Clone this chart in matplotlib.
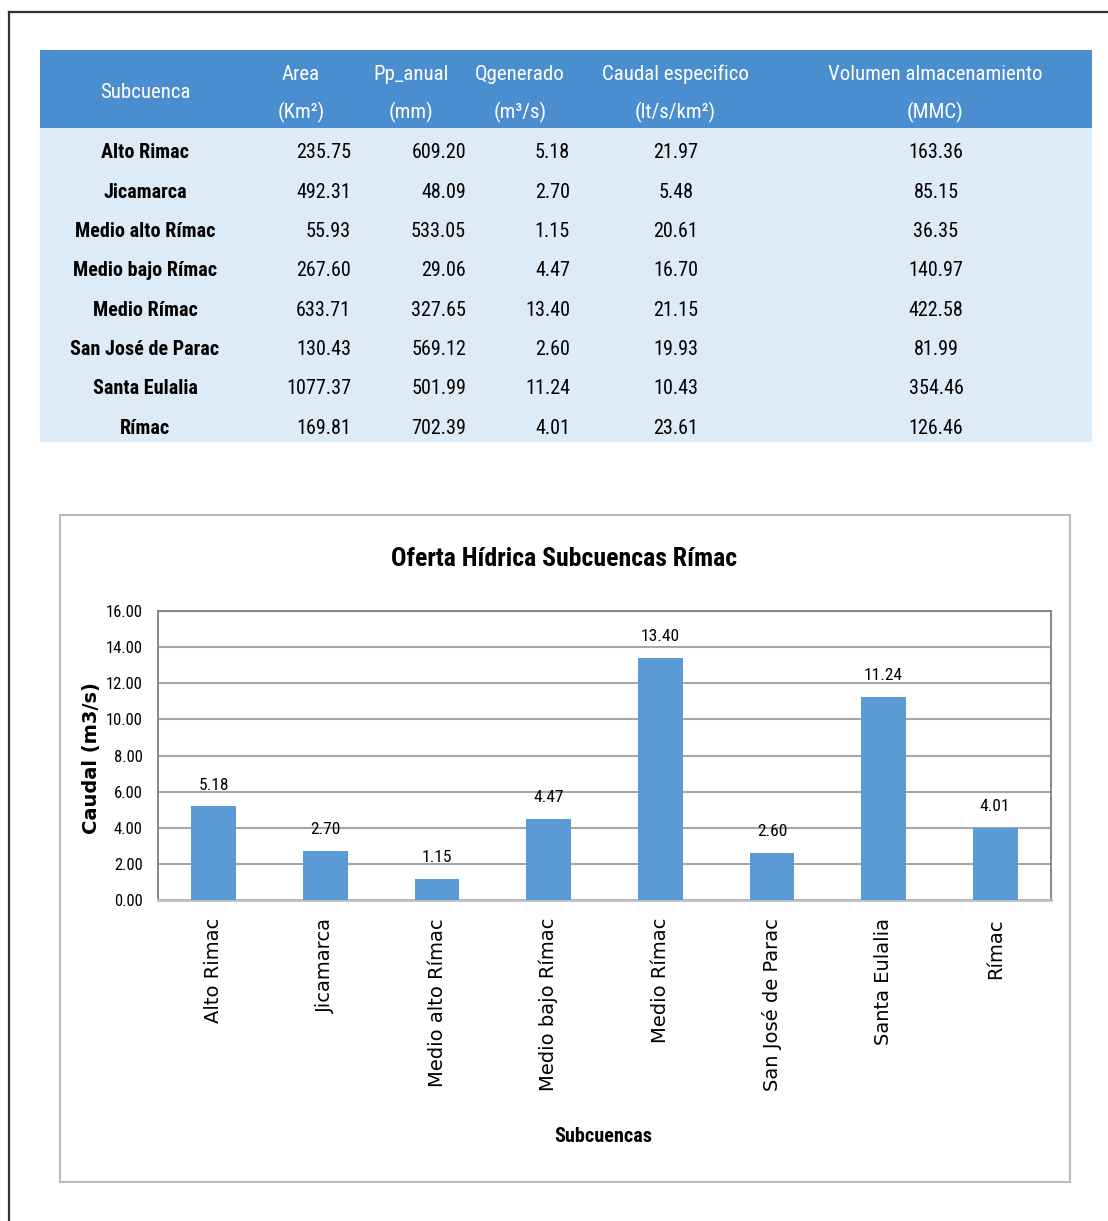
import matplotlib
matplotlib.use("Agg")
import matplotlib.pyplot as plt
from matplotlib.patches import Rectangle
from matplotlib.lines import Line2D

# ---- data ----
subcuencas = ["Alto Rimac", "Jicamarca", "Medio alto Rímac", "Medio bajo Rímac",
              "Medio Rímac", "San José de Parac", "Santa Eulalia", "Rímac"]
area_km2 = [235.75, 492.31, 55.93, 267.60, 633.71, 130.43, 1077.37, 169.81]
pp_anual_mm = [609.20, 48.09, 533.05, 29.06, 327.65, 569.12, 501.99, 702.39]
q_generado = [5.18, 2.70, 1.15, 4.47, 13.40, 2.60, 11.24, 4.01]
caudal_especifico = [21.97, 5.48, 20.61, 16.70, 21.15, 19.93, 10.43, 23.61]
volumen_mmc = [163.36, 85.15, 36.35, 140.97, 422.58, 81.99, 354.46, 126.46]

header_top = ["Subcuenca", "Area", "Pp_anual", "Qgenerado", "Caudal especifico",
              "Volumen almacenamiento"]
header_bottom = ["", "(Km²)", "(mm)", "(m³/s)", "(lt/s/km²)", "(MMC)"]

y_ticks = [0, 2, 4, 6, 8, 10, 12, 14, 16]

NARROW = ["Roboto Condensed", "Noto Sans Condensed", "DejaVu Sans Condensed",
          "Liberation Sans Narrow", "DejaVu Sans"]
STRETCH = "condensed"
W, H = 1108, 1221

fig = plt.figure(figsize=(W / 100, H / 100), dpi=100)
fig.patch.set_facecolor("white")


def fx(x):
    return x / W


def fy(y):
    return 1 - y / H


def ntext(x, y, s, **kw):
    kw.setdefault("family", NARROW)
    kw.setdefault("fontstretch", STRETCH)
    return fig.text(fx(x), fy(y), s, **kw)


# ---- outer frame (top and left edges) ----
fig.add_artist(Line2D([fx(8.5), 1.0], [fy(11.5), fy(11.5)], color="#333333", lw=1.6))
fig.add_artist(Line2D([fx(8.5), fx(8.5)], [fy(11.5), 0.0], color="#333333", lw=1.6))

# ---- table ----
tbl_left, tbl_right = 40, 1092
head_top, head_bot, body_bot = 50, 128, 442
fig.add_artist(Rectangle((fx(tbl_left), fy(head_bot)), fx(tbl_right - tbl_left),
                         (head_bot - head_top) / H, facecolor="#4A8ED0", edgecolor="none"))
fig.add_artist(Rectangle((fx(tbl_left), fy(body_bot)), fx(tbl_right - tbl_left),
                         (body_bot - head_bot) / H, facecolor="#DDEBF7", edgecolor="none"))

head_x = [145, 301, 411, 520, 675, 935]
for i, (t, b) in enumerate(zip(header_top, header_bottom)):
    if b:
        ntext(head_x[i], 74, t, ha="center", va="center", color="white", fontsize=15)
        ntext(head_x[i], 112, b, ha="center", va="center", color="white", fontsize=15)
    else:
        ntext(head_x[i], 92, t, ha="center", va="center", color="white", fontsize=15)

row_y0, row_dy = 153, 39.3
for r, name in enumerate(subcuencas):
    y = row_y0 + r * row_dy
    ntext(145, y, name, ha="center", va="center", fontsize=14.5, fontweight="bold")
    ntext(351, y, f"{area_km2[r]:.2f}", ha="right", va="center", fontsize=14.5)
    ntext(466, y, f"{pp_anual_mm[r]:.2f}", ha="right", va="center", fontsize=14.5)
    ntext(570, y, f"{q_generado[r]:.2f}", ha="right", va="center", fontsize=14.5)
    ntext(676, y, f"{caudal_especifico[r]:.2f}", ha="center", va="center", fontsize=14.5)
    ntext(936, y, f"{volumen_mmc[r]:.2f}", ha="center", va="center", fontsize=14.5)

# ---- chart area box (behind the axes) ----
box = Rectangle((fx(60), fy(1182)), fx(1070 - 60), (1182 - 515) / H,
                facecolor="white", edgecolor="#BBBBBB", lw=1.5, zorder=-5)
fig.add_artist(box)

# ---- bar chart ----
ax = fig.add_axes([fx(158), fy(900), fx(1051 - 158), (900 - 611) / H], zorder=2)
x = list(range(len(subcuencas)))
ax.bar(x, q_generado, width=0.4, color="#5B9BD5", zorder=3)
ax.set_xlim(-0.5, len(subcuencas) - 0.5)
ax.set_ylim(0, 16)
ax.set_yticks(y_ticks)
ax.set_yticklabels([f"{v:.2f}" for v in y_ticks], family=NARROW,
                   fontstretch=STRETCH, fontsize=12)
ax.set_xticks(x)
ax.set_xticklabels(subcuencas, rotation=90, fontsize=14, family="DejaVu Sans",
                   fontstretch="normal")
ax.tick_params(axis="both", length=0)
ax.tick_params(axis="x", pad=13)
ax.tick_params(axis="y", pad=11)
ax.grid(axis="y", color="#A6A6A6", lw=1.5, zorder=0)
ax.set_axisbelow(True)
for side in ("top", "right", "left"):
    ax.spines[side].set_color("#7F7F7F")
    ax.spines[side].set_linewidth(1.3)
ax.spines["bottom"].set_color("#BFBFBF")
ax.spines["bottom"].set_linewidth(2)

for xi, v in zip(x, q_generado):
    ax.annotate(f"{v:.2f}", (xi, v), xytext=(0, 10), textcoords="offset points",
                ha="center", va="bottom", fontsize=12.5, family=NARROW,
                fontstretch=STRETCH)

ax.set_ylabel("Caudal (m3/s)", fontsize=14, fontweight="bold",
              family="DejaVu Sans", fontstretch="normal")
ax.yaxis.label.set_va("center")
ax.yaxis.set_label_coords(-(158 - 92) / (1051 - 158), 0.49)

ntext(564, 559, "Oferta Hídrica Subcuencas Rímac", ha="center", va="center",
      fontsize=18.5, fontweight="bold")
ntext(603, 1136, "Subcuencas", ha="center", va="center", fontsize=14.5, fontweight="bold")

fig.savefig("out.png", dpi=100)
